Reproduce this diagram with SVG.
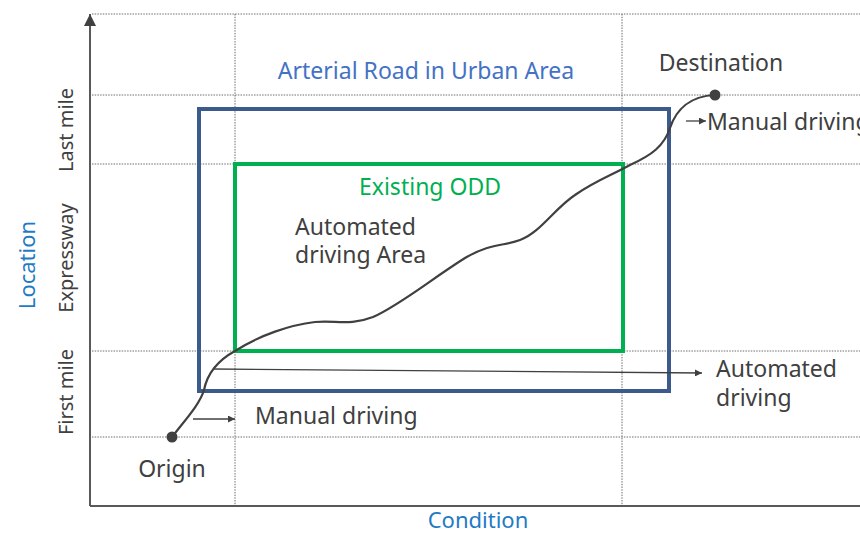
<svg xmlns="http://www.w3.org/2000/svg" width="860" height="533" viewBox="0 0 860 533">
<style>
.t{font-family:"Noto Sans","Liberation Sans",sans-serif;font-size:23px;fill:#404040}
.blue{fill:#4472c4}
.axl{fill:#1f7bc4;font-size:22px}
.grn{fill:#00b050}
.side{font-size:20px}
.grid{stroke:#6f6f6f;stroke-width:1;stroke-dasharray:1.5 1.2;fill:none}
.ax{stroke:#595959;stroke-width:2;fill:none}
.ln{stroke:#404040;stroke-width:1.3;fill:none}
.curve{stroke:#404040;stroke-width:2.2;fill:none}
</style>
<defs>
<marker id="ah" viewBox="0 0 10 10" refX="10" refY="5" markerWidth="7" markerHeight="7" markerUnits="userSpaceOnUse" orient="auto"><path d="M0,0 L10,5 L0,10 z" fill="#404040"/></marker>
<marker id="axh" viewBox="0 0 10 10" refX="10" refY="5" markerWidth="12" markerHeight="12" markerUnits="userSpaceOnUse" orient="auto"><path d="M0,0 L10,5 L0,10 z" fill="#404040"/></marker>
</defs>
<rect width="860" height="533" fill="#fff"/>
<g id="grid">
<path class="grid" d="M92,14H860 M92,95H860 M92,164H860 M92,351H860 M92,437H860 M235,14V506 M622,14V506"/>
</g>
<g id="axes">
<line class="ax" x1="90" y1="506" x2="90" y2="14" marker-end="url(#axh)"/>
<line class="ax" x1="90" y1="506" x2="860" y2="506"/>
</g>
<g id="arterial">
<rect x="199" y="109" width="470" height="282" fill="none" stroke="#3c5a8c" stroke-width="4"/>
<text class="t blue" x="426" y="79" text-anchor="middle">Arterial Road in Urban Area</text>
</g>
<g id="odd">
<rect x="235" y="164" width="388" height="187" fill="none" stroke="#00b050" stroke-width="4"/>
<text class="t grn" x="430" y="195" text-anchor="middle">Existing ODD</text>
<text class="t" x="295" y="235">Automated</text>
<text class="t" x="295" y="263">driving Area</text>
</g>
<g id="connectors">
<path class="curve" d="M172,437 C185,420 200,404 204,390 C207,375 215,362 235,351 C260,335 290,325 315,322 C335,320 350,326 373,317 C400,305 430,280 465,258 C490,243 505,246 520,240 C540,233 555,208 575,195 C595,181 610,176 630,165 C652,155 664,146 670,128 C676,110 690,96 715,95"/>
<line class="ln" x1="213" y1="369" x2="702" y2="373" marker-end="url(#ah)"/>
<line class="ln" x1="193" y1="419" x2="235" y2="419" marker-end="url(#ah)"/>
<line class="ln" x1="686" y1="121" x2="706" y2="121" marker-end="url(#ah)"/>
</g>
<g id="origin">
<circle cx="172" cy="437" r="5.5" fill="#404040"/>
<text class="t" x="172" y="477" text-anchor="middle">Origin</text>
</g>
<g id="destination">
<circle cx="715" cy="95" r="5.5" fill="#404040"/>
<text class="t" x="721" y="71" text-anchor="middle">Destination</text>
<text class="t" x="707" y="130">Manual driving</text>
</g>
<g id="labels">
<text class="t" x="716" y="377">Automated</text>
<text class="t" x="716" y="406">driving</text>
<text class="t" x="255" y="424">Manual driving</text>
<text class="t axl" x="478" y="528" text-anchor="middle">Condition</text>
<text class="t axl" transform="translate(35,265) rotate(-90)" text-anchor="middle">Location</text>
<text class="t side" transform="translate(73,130) rotate(-90)" text-anchor="middle">Last mile</text>
<text class="t side" transform="translate(73,258) rotate(-90)" text-anchor="middle">Expressway</text>
<text class="t side" transform="translate(73,392) rotate(-90)" text-anchor="middle">First mile</text>
</g>
</svg>
